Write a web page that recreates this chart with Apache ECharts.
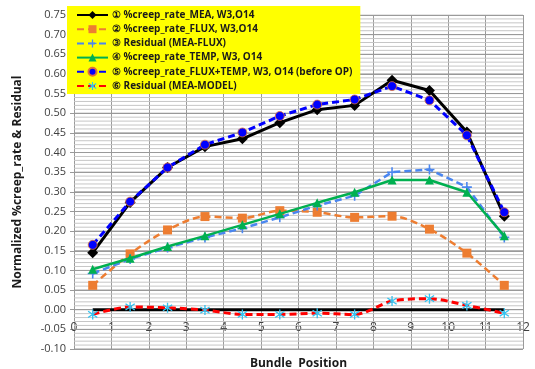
<!DOCTYPE html>
<html>
<head>
<meta charset="utf-8">
<script src="https://cdn.jsdelivr.net/npm/echarts@6/dist/echarts.min.js"></script>
<style>
  html, body { margin: 0; padding: 0; background: #fff; }
  #chart { width: 535px; height: 369px; }
</style>
</head>
<body>
<div id="chart"></div>
<script>
// Bundle positions (x) for every series
const positions = [0.5, 1.5, 2.5, 3.5, 4.5, 5.5, 6.5, 7.5, 8.5, 9.5, 10.5, 11.5];

const seriesNames = [
  '① %creep_rate_MEA, W3,O14',
  '② %creep_rate_FLUX, W3,O14',
  '③ Residual (MEA-FLUX)',
  '④ %creep_rate_TEMP, W3, O14',
  '⑤ %creep_rate_FLUX+TEMP, W3, O14 (before OP)',
  '⑥ Residual (MEA-MODEL)'
];

const creepMEA      = [0.145, 0.273, 0.362, 0.415, 0.435, 0.476, 0.509, 0.520, 0.584, 0.558, 0.452, 0.238];
const creepFLUX     = [0.062, 0.142, 0.203, 0.237, 0.233, 0.252, 0.248, 0.235, 0.238, 0.205, 0.144, 0.062];
const residualFLUX  = [0.092, 0.129, 0.158, 0.184, 0.207, 0.235, 0.265, 0.290, 0.350, 0.357, 0.312, 0.184];
const creepTEMP     = [0.103, 0.131, 0.161, 0.188, 0.216, 0.244, 0.272, 0.299, 0.330, 0.330, 0.299, 0.188];
const creepFluxTemp = [0.165, 0.275, 0.362, 0.420, 0.451, 0.493, 0.522, 0.535, 0.569, 0.533, 0.444, 0.248];
const residualModel = [-0.012, 0.007, 0.005, -0.001, -0.012, -0.012, -0.009, -0.012, 0.022, 0.028, 0.011, -0.009];
const zeroLine      = [0, 0, 0, 0, 0, 0, 0, 0, 0, 0, 0, 0];

const xTicks = { min: 0, max: 12, step: 1 };
const yTicks = { min: -0.10, max: 0.75, step: 0.05, minorPerStep: 5 };

const pairs = vals => positions.map((x, i) => [x, vals[i]]);

const majorGrid = '#9a9a9a';
const minorGrid = '#c6c6c6';

// Horizontal ruling: one thin line per 1/5 of a major step, darker on the major steps
const rulingSeries = [];
{
  const minorStep = yTicks.step / yTicks.minorPerStep;
  const count = Math.round((yTicks.max - yTicks.min) / minorStep);
  for (let i = 0; i <= count; i++) {
    const v = +(yTicks.min + i * minorStep).toFixed(3);
    const isMajor = i % yTicks.minorPerStep === 0;
    rulingSeries.push({
      name: 'ruling', type: 'line', silent: true, z: 1,
      data: [[xTicks.min, v], [xTicks.max, v]],
      symbol: 'none',
      lineStyle: { color: isMajor ? majorGrid : minorGrid, width: 1 },
      emphasis: { disabled: true },
      tooltip: { show: false }
    });
  }
}

const plusPath = 'path://M4.2,0H5.8V4.2H10V5.8H5.8V10H4.2V5.8H0V4.2H4.2Z';
const starPath = 'path://M4.4,0H5.6V10H4.4Z M0.5,2.4L1.2,1.4L9.5,7.6L8.8,8.6Z M8.8,1.4L9.5,2.4L1.2,8.6L0.5,7.6Z';

// Plot box
const gridBox = { left: 74, right: 12, top: 15, bottom: 20 };
const plotHeight = 369 - gridBox.top - gridBox.bottom;
// The x tick labels sit on the y = 0 line: lift the x axis from the bottom edge up to zero
const zeroLift = plotHeight * (0 - yTicks.min) / (yTicks.max - yTicks.min);

const chart = echarts.init(document.getElementById('chart'), null, { renderer: 'canvas' });

const labelFont = { fontFamily: 'Open Sans', fontSize: 11, color: '#404040' };

chart.setOption({
  animation: false,
  backgroundColor: '#ffffff',
  grid: Object.assign({ containLabel: false, outerBoundsMode: 'none' }, gridBox),
  legend: {
    data: seriesNames,
    orient: 'vertical',
    left: 67,
    top: 6,
    z: 10,
    backgroundColor: '#ffff00',
    padding: [3, 8, 2, 9],
    itemWidth: 31,
    itemHeight: 10,
    itemGap: 2.2,
    textStyle: { fontFamily: 'Open Sans', fontSize: 10, lineHeight: 12, fontWeight: 'bold', color: '#1a1a1a', padding: [0, 0, 0, -1] }
  },
  xAxis: {
    type: 'value',
    position: 'bottom',
    offset: -zeroLift,
    min: xTicks.min, max: xTicks.max, interval: xTicks.step,
    name: 'Bundle  Position',
    nameLocation: 'middle',
    nameGap: 48,
    nameTextStyle: { fontFamily: 'Open Sans', fontSize: 12, fontWeight: 'bold', color: '#1a1a1a' },
    axisLine: { show: false, onZero: false },
    axisTick: { show: false },
    axisLabel: { margin: 12, fontFamily: 'Open Sans', fontSize: 12, color: '#404040' },
    splitLine: { show: true, lineStyle: { color: majorGrid, width: 1 } }
  },
  yAxis: {
    type: 'value',
    min: yTicks.min, max: yTicks.max, interval: yTicks.step,
    name: 'Normalized %creep_rate & Residual',
    nameLocation: 'middle',
    nameRotate: 90,
    nameGap: 50,
    nameTextStyle: { fontFamily: 'Open Sans', fontSize: 12, fontWeight: 'bold', color: '#1a1a1a' },
    axisLine: { show: true, lineStyle: { color: '#999', width: 1 } },
    axisTick: { show: true, length: 4, lineStyle: { color: '#999' } },
    axisLabel: Object.assign({ margin: 8, formatter: v => v.toFixed(2) }, labelFont),
    splitLine: { show: true, lineStyle: { color: majorGrid, width: 1 } }
  },
  series: rulingSeries.concat([
    {
      name: 'zero', type: 'line', data: pairs(zeroLine), z: 2,
      symbol: 'none', silent: true,
      lineStyle: { color: '#000', width: 3 }
    },
    {
      name: seriesNames[0], type: 'line', data: pairs(creepMEA), z: 3,
      symbol: 'diamond', symbolSize: 11,
      lineStyle: { color: '#000', width: 3 },
      itemStyle: { color: '#000' }
    },
    {
      name: seriesNames[1], type: 'line', data: pairs(creepFLUX), smooth: 0.3, z: 4,
      symbol: 'rect', symbolSize: 9,
      lineStyle: { color: '#ed7d31', width: 2.5, type: [7, 4] },
      itemStyle: { color: '#ed7d31' }
    },
    {
      name: seriesNames[2], type: 'line', data: pairs(residualFLUX), z: 4,
      symbol: plusPath, symbolSize: 10,
      lineStyle: { color: '#4a86f0', width: 2.5, type: [7, 4] },
      itemStyle: { color: '#4a86f0' }
    },
    {
      name: seriesNames[3], type: 'line', data: pairs(creepTEMP), z: 5,
      symbol: 'triangle', symbolSize: 9,
      lineStyle: { color: '#00b050', width: 2.5 },
      itemStyle: { color: '#00b050' }
    },
    {
      name: seriesNames[4], type: 'line', data: pairs(creepFluxTemp), z: 5,
      symbol: 'circle', symbolSize: 9,
      lineStyle: { color: '#0000ff', width: 3, type: [7, 4] },
      itemStyle: { color: '#0000ff', borderColor: '#e0703a', borderWidth: 0.8 }
    },
    {
      name: seriesNames[5], type: 'line', data: pairs(residualModel), smooth: 0.3, z: 6,
      symbol: starPath, symbolSize: 10,
      lineStyle: { color: '#ff0000', width: 3, type: [7, 4] },
      itemStyle: { color: '#33c3f0' }
    }
  ])
});
</script>
</body>
</html>
